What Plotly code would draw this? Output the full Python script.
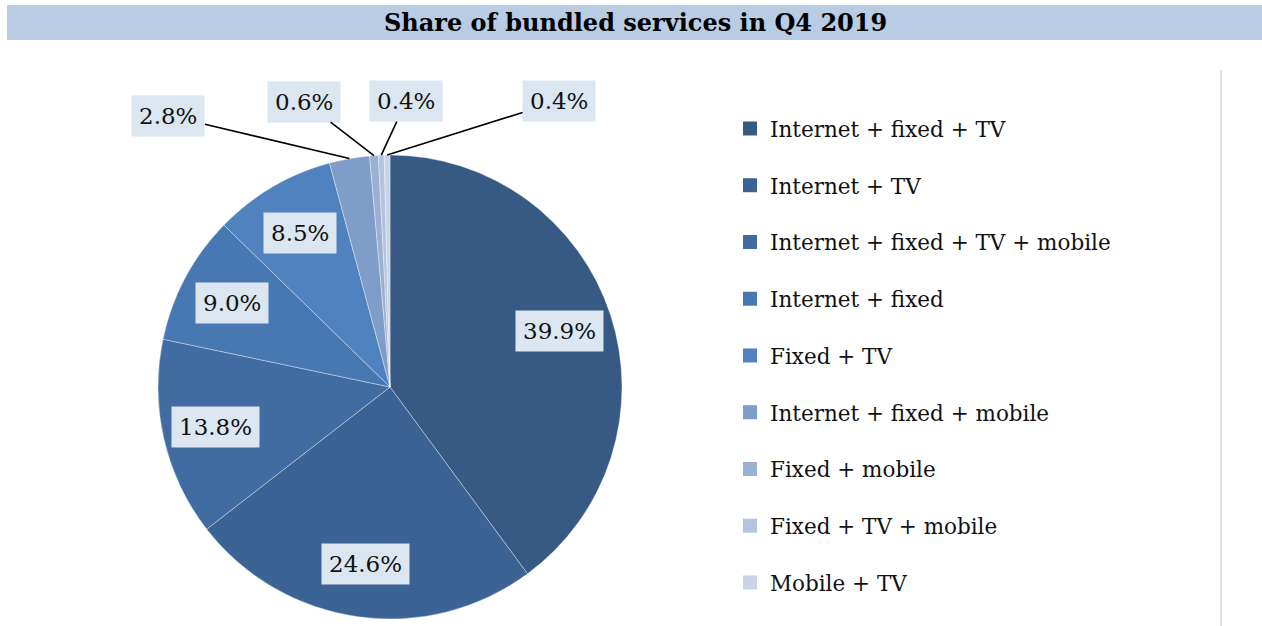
import math
import plotly.graph_objects as go

# ---------------- data ----------------
categories = [
    "Internet + fixed + TV",
    "Internet + TV",
    "Internet + fixed + TV + mobile",
    "Internet + fixed",
    "Fixed + TV",
    "Internet + fixed + mobile",
    "Fixed + mobile",
    "Fixed + TV + mobile",
    "Mobile + TV",
]
shares = [39.9, 24.6, 13.8, 9.0, 8.5, 2.8, 0.6, 0.4, 0.4]
title_text = "Share of bundled services in Q4 2019"

# ---------------- style ----------------
colors = ["#375a84", "#3b6394", "#416ca1", "#4878b2", "#4f82be",
          "#7f9dc9", "#9bb1d4", "#b3c3e0", "#c9d4e8"]
W, H = 1262, 626
CX, CY, R = 390, 387, 232          # pie centre / radius in px
FONT = "DejaVu Serif"
LABEL_BG = "#dce6f1"
INSIDE_F = 0.77                    # radial position of inside labels
SMALL_LIMIT = 5.0                  # values below go outside with a leader line
# pixel offsets of outside labels (style only), in order of small slices
outside_offsets = [(-181, -43), (-70, -54), (25, -54), (172, -54)]

def px_to_paper(x, y):
    return x / W, 1 - y / H

fig = go.Figure()

x0, y1p = px_to_paper(CX - R, CY - R)
x1, y0p = px_to_paper(CX + R, CY + R)
fig.add_trace(go.Pie(
    labels=categories,
    values=shares,
    sort=False,
    direction="clockwise",
    rotation=0,
    marker=dict(colors=colors, line=dict(color="rgba(255,255,255,0.45)", width=0.8)),
    textinfo="none",
    hoverinfo="label+percent",
    showlegend=False,
    domain=dict(x=[x0, x1], y=[y0p, y1p]),
))

# legend via marker-only traces (for spacing control)
for cat, col in zip(categories, colors):
    fig.add_trace(go.Scatter(
        x=[None], y=[None], mode="markers", name=cat, legendgroup=cat,
        marker=dict(symbol="square", size=14, color=col),
    ))

annotations = []
total = sum(shares)
cum = 0.0
small_i = 0
for v in shares:
    mid = (cum + v / 2) / total * 2 * math.pi
    cum += v
    label = f"{v:.1f}%"
    if v >= SMALL_LIMIT:
        px = CX + R * INSIDE_F * math.sin(mid)
        py = CY - R * INSIDE_F * math.cos(mid)
        xp, yp = px_to_paper(px, py)
        annotations.append(dict(
            x=xp, y=yp, xref="paper", yref="paper", text=label, showarrow=False,
            xanchor="center", yanchor="middle",
            font=dict(family=FONT, size=23, color="#111111"),
            bgcolor=LABEL_BG, borderpad=7,
        ))
    else:
        px = CX + R * math.sin(mid)
        py = CY - R * math.cos(mid)
        xp, yp = px_to_paper(px, py)
        ax, ay = outside_offsets[small_i]
        small_i += 1
        annotations.append(dict(
            x=xp, y=yp, xref="paper", yref="paper", text=label, showarrow=True,
            xanchor="center", yanchor="middle",
            arrowhead=0, arrowwidth=1.6, arrowcolor="#000000", ax=ax, ay=ay,
            font=dict(family=FONT, size=23, color="#111111"),
            bgcolor=LABEL_BG, borderpad=7,
        ))

# title
tx, ty = px_to_paper(635, 23)
annotations.append(dict(
    x=tx, y=ty, xref="paper", yref="paper", text=f"<b>{title_text}</b>",
    xanchor="center", yanchor="middle",
    showarrow=False, font=dict(family=FONT, size=24, color="#000000"),
))

bx0, by1 = px_to_paper(7, 5)
bx1, by0 = px_to_paper(W, 40)
lx, ly0 = px_to_paper(1221, 626)
_, ly1 = px_to_paper(1221, 70)
shapes = [
    dict(type="rect", xref="paper", yref="paper", x0=bx0, x1=bx1, y0=by0, y1=by1,
         fillcolor="#b8cce4", line=dict(width=0), layer="below"),
    dict(type="line", xref="paper", yref="paper", x0=lx, x1=lx, y0=ly0, y1=ly1,
         line=dict(color="#d4d4d4", width=1.5)),
]

legx, legy = px_to_paper(730, 108)
fig.update_layout(
    width=W, height=H,
    margin=dict(l=0, r=0, t=0, b=0),
    paper_bgcolor="white", plot_bgcolor="white",
    xaxis=dict(visible=False), yaxis=dict(visible=False),
    legend=dict(x=legx, y=legy, xanchor="left", yanchor="top",
                font=dict(family=FONT, size=21.5, color="#111111"),
                tracegroupgap=25.8, bgcolor="rgba(0,0,0,0)"),
    annotations=annotations,
    shapes=shapes,
)

fig.write_html("out.html", config={"displayModeBar": False},
               post_script="document.body.style.margin='0px';")
